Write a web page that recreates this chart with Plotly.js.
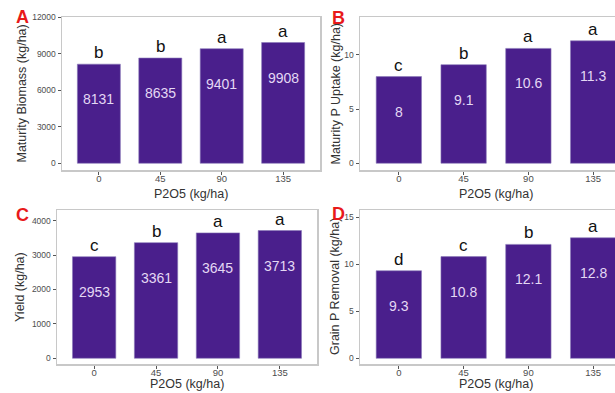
<!DOCTYPE html>
<html>
<head>
<meta charset="utf-8">
<script src="https://cdn.plot.ly/plotly-3.0.1.min.js"></script>
<style>
html,body{margin:0;padding:0;overflow:hidden;background:#fff;width:615px;height:393px;}
#chart{width:640px;height:393px;}
</style>
</head>
<body>
<div id="chart"></div>
<script>
// Data
const rates = ['0', '45', '90', '135'];
const biomass = [8131, 8635, 9401, 9908];
const biomassLetters = ['b', 'b', 'a', 'a'];
const pUptake = [8, 9.1, 10.6, 11.3];
const pUptakeLetters = ['c', 'b', 'a', 'a'];
const yieldVals = [2953, 3361, 3645, 3713];
const yieldLetters = ['c', 'b', 'a', 'a'];
const grainP = [9.3, 10.8, 12.1, 12.8];
const grainPLetters = ['d', 'c', 'b', 'a'];
const panelTags = ['A', 'B', 'C', 'D'];
const yTitles = ['Maturity Biomass (kg/ha)', 'Maturity P Uptake (kg/ha)', 'Yield (kg/ha)', 'Grain P Removal (kg/ha)'];
const xTitle = 'P2O5 (kg/ha)';

const W = 640, H = 393;
const barColor = '#4a1f8c';
const panels = [
  {vals: biomass, letters: biomassLetters, labels: biomass.map(String), x0: 62, x1: 320, yt: 17, yb: 170, yr: [-550, 12000], dt: 3000},
  {vals: pUptake, letters: pUptakeLetters, labels: pUptake.map(String), x0: 360, x1: 632, yt: 17, yb: 170, yr: [-0.62, 13.5], dt: 5},
  {vals: yieldVals, letters: yieldLetters, labels: yieldVals.map(String), x0: 57, x1: 317, yt: 210, yb: 364, yr: [-166, 4310], dt: 1000},
  {vals: grainP, letters: grainPLetters, labels: grainP.map(String), x0: 360, x1: 632, yt: 210, yb: 364, yr: [-0.6, 15.75], dt: 5}
];
const tagPos = [[22, 17], [338, 18], [22, 215], [338, 214]];
const yTitleX = [21, 335, 20, 335];
const xTitleY = [194, 194, 384, 384];

const data = [];
const layout = {
  width: W, height: H,
  margin: {l: 0, r: 0, t: 0, b: 0},
  paper_bgcolor: '#fff', plot_bgcolor: '#fff',
  showlegend: false,
  font: {family: 'Liberation Sans, Arial, sans-serif', color: '#333'},
  annotations: []
};

panels.forEach((p, i) => {
  const n = i === 0 ? '' : String(i + 1);
  const xa = 'x' + n, ya = 'y' + n;
  data.push({
    type: 'bar', x: rates, y: p.vals, xaxis: xa, yaxis: ya,
    width: 0.7,
    marker: {color: barColor, line: {color: '#8a78b8', width: 0.6}},
    hoverinfo: 'skip'
  });
  const axBase = {
    showline: true, mirror: true, linecolor: '#c8c8c8', linewidth: 1.5,
    showgrid: false, zeroline: false,
    ticks: 'outside', ticklen: 3, tickcolor: '#555', tickwidth: 1,
    fixedrange: true
  };
  layout['xaxis' + n] = Object.assign({}, axBase, {
    domain: [p.x0 / W, p.x1 / W], anchor: ya,
    type: 'category', range: [-0.6, 3.6],
    ticklabelstandoff: -4,
    tickfont: {size: 9.5, color: '#4d4d4d'}
  });
  layout['yaxis' + n] = Object.assign({}, axBase, {
    domain: [1 - p.yb / H, 1 - p.yt / H], anchor: xa,
    range: p.yr, dtick: p.dt, tick0: 0, tickformat: 'd',
    tickfont: {size: 8.5, color: '#4d4d4d'}
  });
  rates.forEach((r, k) => {
    layout.annotations.push({
      xref: xa, yref: ya, x: k, y: p.vals[k], text: p.letters[k],
      showarrow: false, yanchor: 'bottom', yshift: 0,
      font: {size: 17, color: '#111'}
    });
    layout.annotations.push({
      xref: xa, yref: ya, x: k, y: p.vals[k], text: p.labels[k],
      showarrow: false, yanchor: 'middle', yshift: -35,
      font: {size: 14, color: '#e4d8f4'}
    });
  });
  // x title
  layout.annotations.push({
    xref: 'paper', yref: 'paper', x: ((p.x0 + p.x1) / 2) / W, y: 1 - xTitleY[i] / H,
    text: xTitle, showarrow: false, xanchor: 'center', yanchor: 'middle',
    font: {size: 12.5, color: '#333'}
  });
  // y title
  layout.annotations.push({
    xref: 'paper', yref: 'paper', x: yTitleX[i] / W, y: 1 - ((p.yt + p.yb) / 2) / H,
    text: yTitles[i], showarrow: false, textangle: -90, xanchor: 'center', yanchor: 'middle',
    font: {size: 12.5, color: '#333'}
  });
  // panel tag
  layout.annotations.push({
    xref: 'paper', yref: 'paper', x: tagPos[i][0] / W, y: 1 - tagPos[i][1] / H,
    text: '<b>' + panelTags[i] + '</b>', showarrow: false, xanchor: 'center', yanchor: 'middle',
    font: {size: 18, color: '#e8191a'}
  });
});

Plotly.newPlot('chart', data, layout, {displayModeBar: false, staticPlot: true});
</script>
</body>
</html>
